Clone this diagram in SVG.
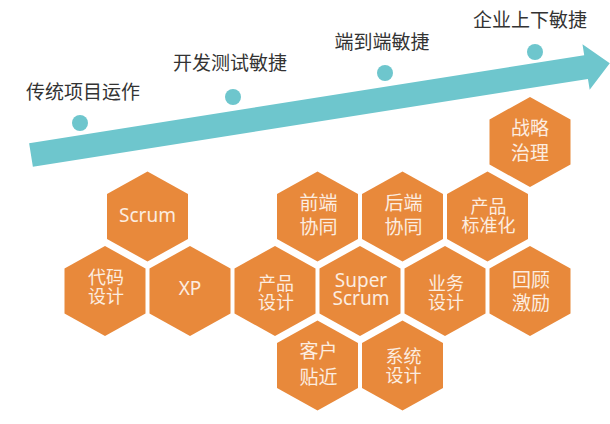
<svg xmlns="http://www.w3.org/2000/svg" width="610" height="424" viewBox="0 0 610 424">
  <style>
    .hex { fill: #E8893B; }
    .ht { font-family: "Noto Sans", "Noto Sans CJK SC", sans-serif; font-size: 19px; fill: #FCEDE0; text-anchor: middle; }
    .tt { font-size: 18px; }
    .lbl { font-family: "Noto Sans CJK SC", "Noto Sans", sans-serif; font-size: 19px; fill: #333333; text-anchor: middle; }
    .dot { fill: #6EC6CD; }
  </style>
  <defs>
    <polygon id="hx" points="0,-45 40.5,-22.5 40.5,22.5 0,45 -40.5,22.5 -40.5,-22.5"/>
  </defs>
  <rect width="610" height="424" fill="#ffffff"/>

  <g id="connectors">
    <g id="timeline-arrow" transform="translate(31,155) rotate(-9)">
      <polygon points="0,-12 562,-12 562,-23 586,0 562,23 562,12 0,12" fill="#6EC6CD"/>
    </g>
  </g>

  <g id="stage1">
    <circle class="dot" cx="80" cy="123" r="8"/>
    <text class="lbl" x="83" y="99">传统项目运作</text>
  </g>
  <g id="stage2">
    <circle class="dot" cx="233" cy="97" r="8"/>
    <text class="lbl" x="230" y="70">开发测试敏捷</text>
  </g>
  <g id="stage3">
    <circle class="dot" cx="385" cy="73" r="8"/>
    <text class="lbl" x="382" y="49">端到端敏捷</text>
  </g>
  <g id="stage4">
    <circle class="dot" cx="535" cy="52" r="8"/>
    <text class="lbl" x="530" y="27">企业上下敏捷</text>
  </g>

  <g id="zhanlue">
    <use href="#hx" class="hex" x="530" y="142"/>
    <text class="ht" x="530" y="135">战略</text>
    <text class="ht" x="530" y="160">治理</text>
  </g>
  <g id="scrum">
    <use href="#hx" class="hex" x="147.5" y="216.5"/>
    <text class="ht" x="147.5" y="222">Scrum</text>
  </g>
  <g id="qianduan">
    <use href="#hx" class="hex" x="317.5" y="216.5"/>
    <text class="ht" x="318.5" y="210">前端</text>
    <text class="ht" x="318.5" y="234">协同</text>
  </g>
  <g id="houduan">
    <use href="#hx" class="hex" x="402.5" y="216.5"/>
    <text class="ht" x="403.5" y="210">后端</text>
    <text class="ht" x="403.5" y="234">协同</text>
  </g>
  <g id="biaozhunhua">
    <use href="#hx" class="hex" x="487.5" y="216.5"/>
    <text class="ht tt" x="488.5" y="213">产品</text>
    <text class="ht tt" x="488.5" y="232">标准化</text>
  </g>
  <g id="daima">
    <use href="#hx" class="hex" x="105" y="291"/>
    <text class="ht tt" x="106" y="284">代码</text>
    <text class="ht tt" x="106" y="303">设计</text>
  </g>
  <g id="xp">
    <use href="#hx" class="hex" x="190" y="291"/>
    <text class="ht" x="190" y="295">XP</text>
  </g>
  <g id="chanpin">
    <use href="#hx" class="hex" x="275" y="291"/>
    <text class="ht tt" x="276" y="290">产品</text>
    <text class="ht tt" x="276" y="309">设计</text>
  </g>
  <g id="superscrum">
    <use href="#hx" class="hex" x="360" y="291"/>
    <text class="ht" x="361" y="287">Super</text>
    <text class="ht" x="361" y="305">Scrum</text>
  </g>
  <g id="yewu">
    <use href="#hx" class="hex" x="445" y="291"/>
    <text class="ht tt" x="446" y="290">业务</text>
    <text class="ht tt" x="446" y="309">设计</text>
  </g>
  <g id="huigu">
    <use href="#hx" class="hex" x="530" y="291"/>
    <text class="ht" x="531" y="287">回顾</text>
    <text class="ht" x="531" y="310">激励</text>
  </g>
  <g id="kehu">
    <use href="#hx" class="hex" x="317.5" y="365.5"/>
    <text class="ht" x="318.5" y="358">客户</text>
    <text class="ht" x="318.5" y="384">贴近</text>
  </g>
  <g id="xitong">
    <use href="#hx" class="hex" x="402.5" y="365.5"/>
    <text class="ht tt" x="403.5" y="363">系统</text>
    <text class="ht tt" x="403.5" y="382">设计</text>
  </g>
</svg>
